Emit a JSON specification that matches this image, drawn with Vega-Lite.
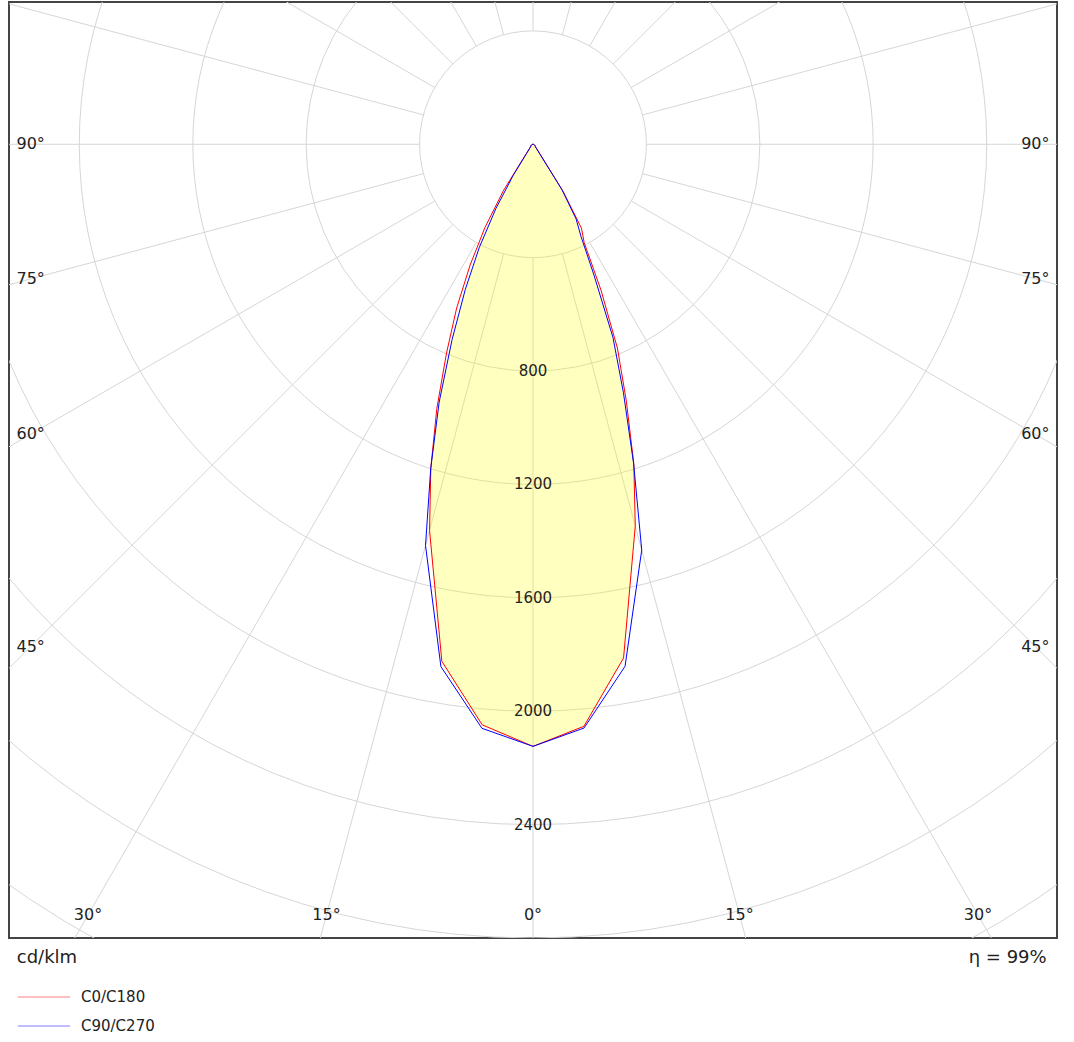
{
  "$schema": "https://vega.github.io/schema/vega-lite/v6.json",
  "width": 1048,
  "height": 936,
  "autosize": {"type": "none"},
  "padding": {"left": 9, "top": 2, "right": 17, "bottom": 104},
  "background": "white",
  "config": {
    "view": {"stroke": "#444444", "strokeWidth": 2},
    "font": "DejaVu Sans"
  },
  "datasets": {
    "circles": [
      {"r": 400}, {"r": 800}, {"r": 1200}, {"r": 1600},
      {"r": 2000}, {"r": 2400}, {"r": 2800}, {"r": 3200}
    ],
    "rays": [
      {"angle": 0}, {"angle": 15}, {"angle": 30}, {"angle": 45}, {"angle": 60}, {"angle": 75},
      {"angle": 90}, {"angle": 105}, {"angle": 120}, {"angle": 135}, {"angle": 150}, {"angle": 165},
      {"angle": 180}, {"angle": 195}, {"angle": 210}, {"angle": 225}, {"angle": 240}, {"angle": 255},
      {"angle": 270}, {"angle": 285}, {"angle": 300}, {"angle": 315}, {"angle": 330}, {"angle": 345}
    ],
    "radial": [
      {"value": 800}, {"value": 1200}, {"value": 1600}, {"value": 2000}, {"value": 2400}
    ],
    "angleLabels": [
      {"label": "90°", "angle": -90, "edge": "side"},
      {"label": "75°", "angle": -75, "edge": "side"},
      {"label": "60°", "angle": -60, "edge": "side"},
      {"label": "45°", "angle": -45, "edge": "side"},
      {"label": "90°", "angle": 90, "edge": "side"},
      {"label": "75°", "angle": 75, "edge": "side"},
      {"label": "60°", "angle": 60, "edge": "side"},
      {"label": "45°", "angle": 45, "edge": "side"},
      {"label": "30°", "angle": -30, "edge": "bottom"},
      {"label": "15°", "angle": -15, "edge": "bottom"},
      {"label": "0°", "angle": 0, "edge": "bottom"},
      {"label": "15°", "angle": 15, "edge": "bottom"},
      {"label": "30°", "angle": 30, "edge": "bottom"}
    ],
    "curve": [
      {"series": "C0/C180", "gamma": -90, "cd": 0},
      {"series": "C0/C180", "gamma": -80, "cd": 3},
      {"series": "C0/C180", "gamma": -70, "cd": 5},
      {"series": "C0/C180", "gamma": -60, "cd": 8},
      {"series": "C0/C180", "gamma": -50, "cd": 10},
      {"series": "C0/C180", "gamma": -45, "cd": 12},
      {"series": "C0/C180", "gamma": -40, "cd": 18},
      {"series": "C0/C180", "gamma": -35, "cd": 50},
      {"series": "C0/C180", "gamma": -32.5, "cd": 195},
      {"series": "C0/C180", "gamma": -30, "cd": 339},
      {"series": "C0/C180", "gamma": -27.5, "cd": 480},
      {"series": "C0/C180", "gamma": -25, "cd": 637},
      {"series": "C0/C180", "gamma": -22.5, "cd": 797},
      {"series": "C0/C180", "gamma": -20, "cd": 992},
      {"series": "C0/C180", "gamma": -17.5, "cd": 1199},
      {"series": "C0/C180", "gamma": -15, "cd": 1410},
      {"series": "C0/C180", "gamma": -10, "cd": 1852},
      {"series": "C0/C180", "gamma": -5, "cd": 2056},
      {"series": "C0/C180", "gamma": 0, "cd": 2124},
      {"series": "C0/C180", "gamma": 5, "cd": 2061},
      {"series": "C0/C180", "gamma": 10, "cd": 1840},
      {"series": "C0/C180", "gamma": 15, "cd": 1394},
      {"series": "C0/C180", "gamma": 17.5, "cd": 1183},
      {"series": "C0/C180", "gamma": 20, "cd": 962},
      {"series": "C0/C180", "gamma": 22.5, "cd": 778},
      {"series": "C0/C180", "gamma": 25, "cd": 567},
      {"series": "C0/C180", "gamma": 27.5, "cd": 391},
      {"series": "C0/C180", "gamma": 30, "cd": 342},
      {"series": "C0/C180", "gamma": 32.5, "cd": 200},
      {"series": "C0/C180", "gamma": 35, "cd": 50},
      {"series": "C0/C180", "gamma": 40, "cd": 18},
      {"series": "C0/C180", "gamma": 45, "cd": 12},
      {"series": "C0/C180", "gamma": 50, "cd": 10},
      {"series": "C0/C180", "gamma": 60, "cd": 8},
      {"series": "C0/C180", "gamma": 70, "cd": 5},
      {"series": "C0/C180", "gamma": 80, "cd": 3},
      {"series": "C0/C180", "gamma": 90, "cd": 0},
      {"series": "C90/C270", "gamma": -90, "cd": 0},
      {"series": "C90/C270", "gamma": -80, "cd": 3},
      {"series": "C90/C270", "gamma": -70, "cd": 5},
      {"series": "C90/C270", "gamma": -60, "cd": 8},
      {"series": "C90/C270", "gamma": -50, "cd": 10},
      {"series": "C90/C270", "gamma": -45, "cd": 12},
      {"series": "C90/C270", "gamma": -40, "cd": 18},
      {"series": "C90/C270", "gamma": -35, "cd": 40},
      {"series": "C90/C270", "gamma": -32.5, "cd": 130},
      {"series": "C90/C270", "gamma": -30, "cd": 262},
      {"series": "C90/C270", "gamma": -27.5, "cd": 410},
      {"series": "C90/C270", "gamma": -25, "cd": 565},
      {"series": "C90/C270", "gamma": -22.5, "cd": 746},
      {"series": "C90/C270", "gamma": -20, "cd": 968},
      {"series": "C90/C270", "gamma": -17.5, "cd": 1200},
      {"series": "C90/C270", "gamma": -15, "cd": 1465},
      {"series": "C90/C270", "gamma": -10, "cd": 1871},
      {"series": "C90/C270", "gamma": -5, "cd": 2068},
      {"series": "C90/C270", "gamma": 0, "cd": 2124},
      {"series": "C90/C270", "gamma": 5, "cd": 2067},
      {"series": "C90/C270", "gamma": 10, "cd": 1870},
      {"series": "C90/C270", "gamma": 15, "cd": 1482},
      {"series": "C90/C270", "gamma": 17.5, "cd": 1180},
      {"series": "C90/C270", "gamma": 20, "cd": 933},
      {"series": "C90/C270", "gamma": 22.5, "cd": 737},
      {"series": "C90/C270", "gamma": 25, "cd": 509},
      {"series": "C90/C270", "gamma": 27.5, "cd": 367},
      {"series": "C90/C270", "gamma": 30, "cd": 304},
      {"series": "C90/C270", "gamma": 32.5, "cd": 190},
      {"series": "C90/C270", "gamma": 35, "cd": 45},
      {"series": "C90/C270", "gamma": 40, "cd": 18},
      {"series": "C90/C270", "gamma": 45, "cd": 12},
      {"series": "C90/C270", "gamma": 50, "cd": 10},
      {"series": "C90/C270", "gamma": 60, "cd": 8},
      {"series": "C90/C270", "gamma": 70, "cd": 5},
      {"series": "C90/C270", "gamma": 80, "cd": 3},
      {"series": "C90/C270", "gamma": 90, "cd": 0}
    ]
  },
  "layer": [
    {
      "data": {"name": "circles"},
      "mark": {"type": "arc", "filled": false, "stroke": "#d6d6d6", "strokeWidth": 1, "theta": 0, "theta2": 6.2832, "clip": true},
      "encoding": {
        "x": {"datum": 0, "type": "quantitative", "scale": {"domain": [-1848.5, 1848.5], "nice": false, "zero": false}, "axis": null},
        "y": {"datum": 0, "type": "quantitative", "scale": {"domain": [-2800, 501.9], "nice": false, "zero": false}, "axis": null},
        "radius": {"field": "r", "type": "quantitative", "stack": null, "scale": {"type": "linear", "domain": [0, 1000], "range": [0, 283.473]}}
      }
    },
    {
      "data": {"name": "rays"},
      "transform": [
        {"calculate": "400*sin(datum.angle*PI/180)", "as": "xa"},
        {"calculate": "-400*cos(datum.angle*PI/180)", "as": "ya"},
        {"calculate": "5000*sin(datum.angle*PI/180)", "as": "xb"},
        {"calculate": "-5000*cos(datum.angle*PI/180)", "as": "yb"}
      ],
      "mark": {"type": "rule", "stroke": "#d6d6d6", "strokeWidth": 1, "clip": true},
      "encoding": {
        "x": {"field": "xa", "type": "quantitative", "axis": null},
        "y": {"field": "ya", "type": "quantitative", "axis": null},
        "x2": {"field": "xb"},
        "y2": {"field": "yb"}
      }
    },
    {
      "data": {"name": "curve"},
      "transform": [
        {"aggregate": [{"op": "min", "field": "cd", "as": "cd"}], "groupby": ["gamma"]},
        {"calculate": "datum.cd*sin(datum.gamma*PI/180)", "as": "px"},
        {"calculate": "-datum.cd*cos(datum.gamma*PI/180)", "as": "py"}
      ],
      "mark": {"type": "line", "filled": true, "color": "#ffff00", "fillOpacity": 0.25, "strokeWidth": 0, "interpolate": "linear-closed"},
      "encoding": {
        "x": {"field": "px", "type": "quantitative", "axis": null},
        "y": {"field": "py", "type": "quantitative", "axis": null},
        "order": {"field": "gamma", "type": "quantitative"}
      }
    },
    {
      "data": {"name": "curve"},
      "transform": [
        {"calculate": "datum.cd*sin(datum.gamma*PI/180)", "as": "px"},
        {"calculate": "-datum.cd*cos(datum.gamma*PI/180)", "as": "py"}
      ],
      "mark": {"type": "line", "strokeWidth": 1},
      "encoding": {
        "x": {"field": "px", "type": "quantitative", "axis": null},
        "y": {"field": "py", "type": "quantitative", "axis": null},
        "order": {"field": "gamma", "type": "quantitative"},
        "color": {
          "field": "series", "type": "nominal",
          "scale": {"domain": ["C0/C180", "C90/C270"], "range": ["#ff0000", "#0000ff"]},
          "legend": {
            "title": null, "orient": "none", "legendX": 27.5, "legendY": 987.5,
            "symbolType": "M-26,0H26", "symbolSize": 4, "symbolStrokeWidth": 1, "symbolOpacity": 0.5,
            "labelFont": "DejaVu Sans", "labelFontSize": 15, "labelColor": "#222222", "labelOffset": 29.5,
            "rowPadding": 13, "padding": 0
          }
        }
      }
    },
    {
      "data": {"name": "radial"},
      "transform": [{"calculate": "-datum.value", "as": "py"}],
      "mark": {"type": "text", "fontSize": 15, "color": "#222222", "baseline": "middle", "align": "center"},
      "encoding": {
        "x": {"datum": 0, "type": "quantitative"},
        "y": {"field": "py", "type": "quantitative"},
        "text": {"field": "value", "type": "quantitative", "format": "d"}
      }
    },
    {
      "data": {"name": "angleLabels"},
      "transform": [
        {"calculate": "datum.edge == 'side' ? (datum.angle < 0 ? -1772 : 1772) : 2719*tan(datum.angle*PI/180)", "as": "px"},
        {"calculate": "datum.edge == 'side' ? -1772/tan(abs(datum.angle)*PI/180) : -2719", "as": "py"}
      ],
      "mark": {"type": "text", "fontSize": 16, "color": "#222222", "baseline": "middle", "align": "center"},
      "encoding": {
        "x": {"field": "px", "type": "quantitative"},
        "y": {"field": "py", "type": "quantitative"},
        "text": {"field": "label", "type": "nominal"}
      }
    },
    {
      "data": {"values": [{"note": "cd/klm"}]},
      "mark": {"type": "text", "fontSize": 18, "color": "#222222", "baseline": "middle", "align": "left"},
      "encoding": {
        "x": {"datum": -1821, "type": "quantitative"},
        "y": {"datum": -2870, "type": "quantitative"},
        "text": {"field": "note", "type": "nominal"}
      }
    },
    {
      "data": {"values": [{"note": "η = 99%"}]},
      "mark": {"type": "text", "fontSize": 18, "color": "#222222", "baseline": "middle", "align": "right"},
      "encoding": {
        "x": {"datum": 1812, "type": "quantitative"},
        "y": {"datum": -2870, "type": "quantitative"},
        "text": {"field": "note", "type": "nominal"}
      }
    }
  ]
}
